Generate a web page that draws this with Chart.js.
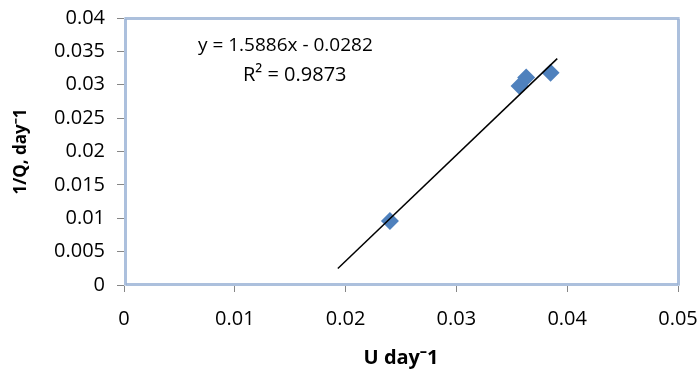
<!DOCTYPE html>
<html>
<head>
<meta charset="utf-8">
<script src="https://cdn.jsdelivr.net/npm/chart.js@4.4.1/dist/chart.umd.min.js"></script>
<style>
  html, body { margin: 0; padding: 0; background: #ffffff; }
  #wrap { width: 699px; height: 370px; position: relative; }
</style>
</head>
<body>
<div id="wrap"><canvas id="c" width="699" height="370"></canvas></div>
<script>
// ---- data ----
const uValues = [0.0240, 0.0357, 0.0363, 0.0385];     // U day-1
const invQValues = [0.0096, 0.0298, 0.0311, 0.0318];  // 1/Q, day-1
const trendSlope = 1.5886;
const trendIntercept = -0.0282;
const trendR2 = 0.9873;
const trendXRange = [0.0193, 0.0391];
const xTickLabels = ['0', '0.01', '0.02', '0.03', '0.04', '0.05'];
const yTickLabels = ['0', '0.005', '0.01', '0.015', '0.02', '0.025', '0.03', '0.035', '0.04'];
const xTitle = 'U day\u207B1';
const yTitle = '1/Q, day\u207B1';

const scatterPoints = uValues.map((u, i) => ({ x: u, y: invQValues[i] }));
const trendPoints = trendXRange.map(x => ({ x: x, y: trendSlope * x + trendIntercept }));

const FONT = "'Open Sans', 'Liberation Sans', sans-serif";

const plotBorder = {
  id: 'plotBorder',
  afterDatasetsDraw(chart) {
    const a = chart.chartArea, ctx = chart.ctx;
    ctx.save();
    ctx.lineWidth = 3;
    ctx.strokeStyle = '#c9d7ea';
    ctx.strokeRect(a.left + 1.5, a.top + 0.5, a.right - a.left - 1, a.bottom - a.top - 1);
    ctx.setLineDash([1, 1]);
    ctx.strokeStyle = '#8fa9cf';
    ctx.strokeRect(a.left + 1.5, a.top + 0.5, a.right - a.left - 1, a.bottom - a.top - 1);
    ctx.restore();
  }
};

const eqLabel = {
  id: 'eqLabel',
  afterDraw(chart) {
    const ctx = chart.ctx, a = chart.chartArea;
    ctx.save();
    ctx.fillStyle = '#000';
    ctx.font = "19px " + FONT;
    ctx.textBaseline = 'middle';
    ctx.textAlign = 'left';
    ctx.fillText('y = ' + trendSlope + 'x - ' + Math.abs(trendIntercept), a.left + 74, a.top + 28);
    ctx.font = "20px " + FONT;
    ctx.fillText('R\u00B2 = ' + trendR2, a.left + 119, a.top + 57);
    ctx.restore();
  }
};

function zeroPad(s) { s.paddingTop = 0; s.paddingBottom = 0; s.paddingLeft = 0; s.paddingRight = 0; }

new Chart(document.getElementById('c'), {
  type: 'scatter',
  data: {
    datasets: [
      {
        label: 'data',
        data: scatterPoints,
        pointStyle: 'rectRot',
        pointRadius: 9,
        pointHoverRadius: 9,
        backgroundColor: '#4f81bd',
        borderColor: '#4f81bd',
        borderWidth: 0,
        order: 2
      },
      {
        label: 'trend',
        type: 'line',
        data: trendPoints,
        borderColor: '#000000',
        borderWidth: 1.5,
        pointRadius: 0,
        fill: false,
        order: 1
      }
    ]
  },
  options: {
    responsive: false,
    animation: false,
    events: [],
    layout: { padding: { left: 0, right: 21, top: 18, bottom: 0 } },
    plugins: { legend: { display: false }, tooltip: { enabled: false } },
    scales: {
      x: {
        type: 'linear',
        min: 0, max: 0.05,
        afterFit(s) { s.height = 85; zeroPad(s); },
        afterBuildTicks(s) { s.ticks = xTickLabels.map(v => ({ value: parseFloat(v) })); },
        ticks: {
          callback: (v, i) => xTickLabels[i],
          color: '#000', font: { family: FONT, size: 20 }, padding: 15, maxRotation: 0
        },
        grid: { drawOnChartArea: false, drawTicks: true, tickLength: 7, color: '#868686' },
        border: { color: '#868686', width: 1 },
        title: { display: true, text: xTitle, color: '#000', font: { family: FONT, size: 20, weight: 'bold' }, padding: { top: 0, bottom: 0 } }
      },
      y: {
        type: 'linear',
        min: 0, max: 0.04,
        afterFit(s) { s.width = 124; zeroPad(s); },
        afterBuildTicks(s) { s.ticks = yTickLabels.map(v => ({ value: parseFloat(v) })); },
        ticks: {
          callback: (v, i) => yTickLabels[i],
          color: '#000', font: { family: FONT, size: 20 }, padding: 12
        },
        grid: { drawOnChartArea: false, drawTicks: true, tickLength: 7, color: '#868686' },
        border: { color: '#868686', width: 1 },
        title: { display: true, text: yTitle, color: '#000', font: { family: FONT, size: 17, weight: 'bold' }, padding: { top: 11, bottom: 0 } }
      }
    }
  },
  plugins: [plotBorder, eqLabel]
});
</script>
</body>
</html>
